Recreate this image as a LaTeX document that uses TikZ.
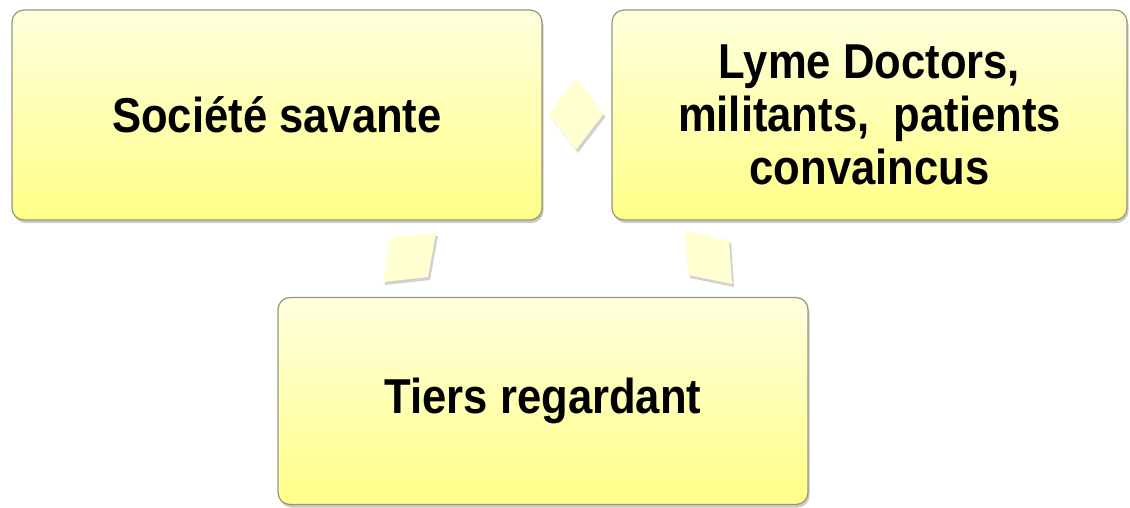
\documentclass[tikz,border=0pt]{standalone}
\usepackage{fontspec}
\setmainfont{Liberation Sans}[FakeStretch=0.89]
\usetikzlibrary{shapes.geometric,shadows}
\definecolor{boxtop}{RGB}{255,255,222}
\definecolor{boxbot}{RGB}{255,255,135}
\definecolor{boxline}{RGB}{150,150,125}
\definecolor{arrfill}{RGB}{255,255,210}
\tikzset{
  box/.style={draw=boxline, line width=1.2pt, rounded corners=12pt,
    top color=boxtop, bottom color=boxbot,
    drop shadow={shadow xshift=1.5pt, shadow yshift=-3pt, opacity=0.35, fill=black!60},
    inner sep=0pt, align=center,
    font=\fontsize{49}{53}\selectfont\bfseries},
  deco/.style={fill=arrfill, draw=none,
    drop shadow={shadow xshift=2pt, shadow yshift=-3pt, opacity=0.18, fill=black}},
}
\begin{document}
\begin{tikzpicture}[x=1pt,y=-1pt]
\useasboundingbox (0,0) rectangle (1130,507);
\node[box, minimum width=530pt, minimum height=210pt] (A) at (277,115) {Société savante};
\node[box, minimum width=515pt, minimum height=210pt] (B) at (869.5,115) {Lyme Doctors,\\militants,\ \ patients\\convaincus};
\node[box, minimum width=530pt, minimum height=207pt] (C) at (543,401) {Tiers regardant};
\node[deco, diamond, minimum width=55pt, minimum height=72pt, inner sep=0pt] (D1) at (576,114) {};
\path[deco] (390,237) -- (436,233) -- (428,277) -- (383,282) -- cycle;
\path[deco] (685,231) -- (729,240) -- (732,284) -- (688,275) -- cycle;
\end{tikzpicture}
\end{document}
